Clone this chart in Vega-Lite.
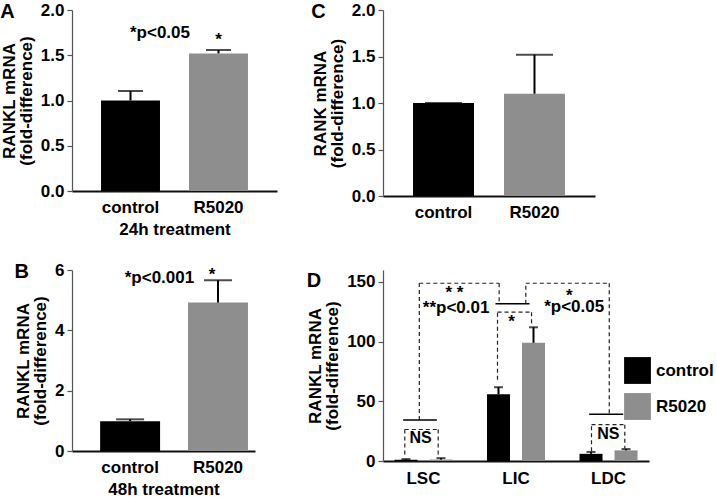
{
  "$schema": "https://vega.github.io/schema/vega-lite/v6.json",
  "background": "white",
  "padding": {"left": 0, "top": 1, "right": 0, "bottom": 0},
  "columns": 2,
  "align": "each",
  "bounds": "flush",
  "spacing": {"row": 74, "column": 106},
  "resolve": {"scale": {"color": "independent", "x": "independent", "y": "independent"}, "legend": {"color": "independent"}},
  "config": {
    "font": "Liberation Sans",
    "view": {"stroke": null},
    "axis": {"labelFontSize": 17, "labelFontWeight": "bold", "labelColor": "#000", "titleFontSize": 17, "titleFontWeight": "bold", "titleColor": "#000", "grid": false, "domainColor": "#555", "tickColor": "#555", "domainWidth": 1.2, "tickWidth": 1.2, "tickSize": 5, "labelPadding": 3},
    "axisX": {"ticks": false, "labelAngle": 0, "labelPadding": 8, "titlePadding": 6, "domainColor": "#111", "domainWidth": 1.8},
    "axisY": {"titlePadding": 5, "titleLineHeight": 17},
    "title": {"fontSize": 20, "fontWeight": "bold", "anchor": "start", "frame": "bounds", "color": "#000", "offset": -21, "baseline": "alphabetic"},
    "text": {"font": "Liberation Sans", "fontSize": 17, "fontWeight": "bold", "color": "#000"}
  },
  "datasets": {
    "barsA": [
      {"cond": "control", "value": 1.0, "err": 1.105},
      {"cond": "R5020", "value": 1.52, "err": 1.558}
    ],
    "textA": [
      {"cond": "control", "y": 1.743, "label": "*p<0.05", "kind": "p"},
      {"cond": "R5020", "y": 1.665, "label": "*", "kind": "s"}
    ],
    "barsB": [
      {"cond": "control", "value": 0.99, "err": 1.05},
      {"cond": "R5020", "value": 4.92, "err": 5.66}
    ],
    "textB": [
      {"cond": "control", "y": 5.745, "label": "*p<0.001", "kind": "p"},
      {"cond": "R5020", "y": 5.82, "label": "*", "kind": "s"}
    ],
    "barsC": [
      {"cond": "control", "value": 1.0, "err": 1.0},
      {"cond": "R5020", "value": 1.1, "err": 1.52}
    ],
    "barsD": [
      {"group": "LSC", "cond": "control", "value": 1.0, "err": 1.6},
      {"group": "LSC", "cond": "R5020", "value": 1.2, "err": 2.4},
      {"group": "LIC", "cond": "control", "value": 56, "err": 61.8},
      {"group": "LIC", "cond": "R5020", "value": 99, "err": 112},
      {"group": "LDC", "cond": "control", "value": 6, "err": 7.6},
      {"group": "LDC", "cond": "R5020", "value": 8.9, "err": 10}
    ],
    "linesD": [
      {"kind": "span", "x": -0.22, "x2": 0.145, "y": 34.3, "y2": 34.3},
      {"kind": "span", "x": 0.778, "x2": 1.146, "y": 131.7, "y2": 131.7},
      {"kind": "span", "x": 1.791, "x2": 2.159, "y": 39.2, "y2": 39.2},
      {"kind": "bracket", "x": -0.045, "x2": -0.045, "y": 34.3, "y2": 148.9},
      {"kind": "bracket", "x": -0.045, "x2": 0.818, "y": 148.9, "y2": 148.9},
      {"kind": "bracket", "x": 0.818, "x2": 0.818, "y": 148.9, "y2": 131.7},
      {"kind": "bracket", "x": 1.106, "x2": 1.106, "y": 131.7, "y2": 148.9},
      {"kind": "bracket", "x": 1.106, "x2": 2.008, "y": 148.9, "y2": 148.9},
      {"kind": "bracket", "x": 2.008, "x2": 2.008, "y": 148.9, "y2": 39.2},
      {"kind": "bracket", "x": 0.8, "x2": 0.8, "y": 68, "y2": 124.7},
      {"kind": "bracket", "x": 0.8, "x2": 1.168, "y": 124.7, "y2": 124.7},
      {"kind": "bracket", "x": 1.168, "x2": 1.168, "y": 124.7, "y2": 114},
      {"kind": "bracket", "x": -0.202, "x2": -0.202, "y": 5.5, "y2": 26.4},
      {"kind": "bracket", "x": -0.202, "x2": 0.159, "y": 26.4, "y2": 26.4},
      {"kind": "bracket", "x": 0.159, "x2": 0.159, "y": 26.4, "y2": 4.7},
      {"kind": "bracket", "x": 1.816, "x2": 1.816, "y": 8.1, "y2": 30.4},
      {"kind": "bracket", "x": 1.816, "x2": 2.176, "y": 30.4, "y2": 30.4},
      {"kind": "bracket", "x": 2.176, "x2": 2.176, "y": 30.4, "y2": 10.5}
    ],
    "textD": [
      {"x": 0.335, "y": 140.5, "label": "* *", "kind": "sig"},
      {"x": 0.353, "y": 128.4, "label": "**p<0.01", "kind": "sig"},
      {"x": 0.952, "y": 116.3, "label": "*", "kind": "sig"},
      {"x": 1.575, "y": 138.3, "label": "*", "kind": "sig"},
      {"x": 1.629, "y": 128.8, "label": "*p<0.05", "kind": "sig"},
      {"x": -0.032, "y": 19.2, "label": "NS", "kind": "ns"},
      {"x": 1.997, "y": 22.8, "label": "NS", "kind": "ns"}
    ]
  },
  "concat": [
    {
      "width": 205, "height": 181,
      "title": {"text": "A"},
      "layer": [
        {"data": {"name": "barsA"}, "mark": {"type": "bar"}, "encoding": {
          "x": {"field": "cond", "type": "nominal", "sort": ["control", "R5020"], "scale": {"paddingInner": 0.33, "paddingOuter": 0.33}, "axis": {"title": "24h treatment"}},
          "y": {"field": "value", "type": "quantitative", "scale": {"domain": [0, 2]}, "axis": {"title": ["RANKL mRNA", "(fold-difference)"], "values": [0, 0.5, 1, 1.5, 2], "format": ".1f"}},
          "color": {"field": "cond", "type": "nominal", "scale": {"domain": ["control", "R5020"], "range": ["#000000", "#8e8e8e"]}, "legend": null}}},
        {"data": {"name": "barsA"}, "mark": {"type": "rule", "color": "#000", "strokeWidth": 2}, "encoding": {
          "x": {"field": "cond", "type": "nominal", "sort": ["control", "R5020"]},
          "y": {"field": "value", "type": "quantitative"}, "y2": {"field": "err"}}},
        {"data": {"name": "barsA"}, "mark": {"type": "tick", "color": "#000", "thickness": 2, "size": 25}, "encoding": {
          "x": {"field": "cond", "type": "nominal", "sort": ["control", "R5020"]},
          "y": {"field": "err", "type": "quantitative"}}},
        {"data": {"name": "textA"}, "transform": [{"filter": "datum.kind == 'p'"}], "mark": {"type": "text", "baseline": "middle"}, "encoding": {
          "x": {"field": "cond", "type": "nominal", "sort": ["control", "R5020"], "bandPosition": 1.0},
          "y": {"field": "y", "type": "quantitative"}, "text": {"field": "label"}}},
        {"data": {"name": "textA"}, "transform": [{"filter": "datum.kind == 's'"}], "mark": {"type": "text", "baseline": "middle"}, "encoding": {
          "x": {"field": "cond", "type": "nominal", "sort": ["control", "R5020"], "bandPosition": 0.5},
          "y": {"field": "y", "type": "quantitative"}, "text": {"field": "label"}}}
      ]
    },
    {
      "width": 212, "height": 186,
      "title": {"text": "C"},
      "layer": [
        {"data": {"name": "barsC"}, "mark": {"type": "bar"}, "encoding": {
          "x": {"field": "cond", "type": "nominal", "sort": ["control", "R5020"], "scale": {"paddingInner": 0.33, "paddingOuter": 0.33}, "axis": {"title": null}},
          "y": {"field": "value", "type": "quantitative", "scale": {"domain": [0, 2]}, "axis": {"title": ["RANK mRNA", "(fold-difference)"], "values": [0, 0.5, 1, 1.5, 2], "format": ".1f"}},
          "color": {"field": "cond", "type": "nominal", "scale": {"domain": ["control", "R5020"], "range": ["#000000", "#8e8e8e"]}, "legend": null}}},
        {"data": {"name": "barsC"}, "mark": {"type": "rule", "color": "#000", "strokeWidth": 2}, "encoding": {
          "x": {"field": "cond", "type": "nominal", "sort": ["control", "R5020"]},
          "y": {"field": "value", "type": "quantitative"}, "y2": {"field": "err"}}},
        {"data": {"name": "barsC"}, "mark": {"type": "tick", "color": "#000", "thickness": 2, "size": 37}, "encoding": {
          "x": {"field": "cond", "type": "nominal", "sort": ["control", "R5020"]},
          "y": {"field": "err", "type": "quantitative"}}}
      ]
    },
    {
      "width": 183, "height": 181,
      "title": {"text": "B"},
      "layer": [
        {"data": {"name": "barsB"}, "mark": {"type": "bar"}, "encoding": {
          "x": {"field": "cond", "type": "nominal", "sort": ["control", "R5020"], "scale": {"paddingInner": 0.318, "paddingOuter": 0.2, "align": 0.8}, "axis": {"title": "48h treatment"}},
          "y": {"field": "value", "type": "quantitative", "scale": {"domain": [0, 6]}, "axis": {"title": ["RANKL mRNA", "(fold-difference)"], "values": [0, 2, 4, 6], "format": "d"}},
          "color": {"field": "cond", "type": "nominal", "scale": {"domain": ["control", "R5020"], "range": ["#000000", "#8e8e8e"]}, "legend": null}}},
        {"data": {"name": "barsB"}, "mark": {"type": "rule", "color": "#000", "strokeWidth": 2}, "encoding": {
          "x": {"field": "cond", "type": "nominal", "sort": ["control", "R5020"]},
          "y": {"field": "value", "type": "quantitative"}, "y2": {"field": "err"}}},
        {"data": {"name": "barsB"}, "mark": {"type": "tick", "color": "#000", "thickness": 2, "size": 28}, "encoding": {
          "x": {"field": "cond", "type": "nominal", "sort": ["control", "R5020"]},
          "y": {"field": "err", "type": "quantitative"}}},
        {"data": {"name": "textB"}, "transform": [{"filter": "datum.kind == 'p'"}], "mark": {"type": "text", "baseline": "middle"}, "encoding": {
          "x": {"field": "cond", "type": "nominal", "sort": ["control", "R5020"], "bandPosition": 0.99},
          "y": {"field": "y", "type": "quantitative"}, "text": {"field": "label"}}},
        {"data": {"name": "textB"}, "transform": [{"filter": "datum.kind == 's'"}], "mark": {"type": "text", "baseline": "middle"}, "encoding": {
          "x": {"field": "cond", "type": "nominal", "sort": ["control", "R5020"], "bandPosition": 0.4},
          "y": {"field": "y", "type": "quantitative"}, "text": {"field": "label"}}}
      ]
    },
    {
      "width": 266, "height": 191,
      "title": {"text": "D"},
      "resolve": {"scale": {"x": "independent"}},
      "layer": [
        {
          "data": {"name": "barsD"},
          "layer": [
            {"mark": {"type": "bar"}, "encoding": {
              "x": {"field": "group", "type": "nominal", "sort": ["LSC", "LIC", "LDC"], "scale": {"paddingInner": 0.373, "paddingOuter": 0.124}, "axis": {"title": null, "labelPadding": 9}},
              "xOffset": {"field": "cond", "type": "nominal", "sort": ["control", "R5020"], "scale": {"paddingInner": 0.343, "paddingOuter": 0}},
              "y": {"field": "value", "type": "quantitative", "scale": {"domain": [0, 150]}, "axis": {"title": ["RANKL mRNA", "(fold-difference)"], "values": [0, 50, 100, 150]}},
              "color": {"field": "cond", "type": "nominal", "scale": {"domain": ["control", "R5020"], "range": ["#000000", "#8e8e8e"]},
                "legend": {"orient": "none", "legendX": 241, "legendY": 87, "title": null, "symbolType": "square", "symbolSize": 720, "symbolStrokeWidth": 0, "labelFontSize": 17, "labelFontWeight": "bold", "labelColor": "#000", "rowPadding": 9, "labelOffset": 5, "padding": 0}}}},
            {"mark": {"type": "rule", "color": "#000", "strokeWidth": 2}, "encoding": {
              "x": {"field": "group", "type": "nominal", "sort": ["LSC", "LIC", "LDC"]},
              "xOffset": {"field": "cond", "type": "nominal", "sort": ["control", "R5020"]},
              "y": {"field": "value", "type": "quantitative"}, "y2": {"field": "err"}}},
            {"mark": {"type": "tick", "color": "#000", "thickness": 2, "size": 9}, "encoding": {
              "x": {"field": "group", "type": "nominal", "sort": ["LSC", "LIC", "LDC"]},
              "xOffset": {"field": "cond", "type": "nominal", "sort": ["control", "R5020"]},
              "y": {"field": "err", "type": "quantitative"}}}
          ]
        },
        {
          "layer": [
            {"data": {"name": "linesD"}, "transform": [{"filter": "datum.kind == 'bracket'"}], "mark": {"type": "rule", "color": "#222", "strokeWidth": 1.2, "strokeDash": [4, 3]}, "encoding": {
              "x": {"field": "x", "type": "quantitative", "scale": {"domain": [-0.4375, 2.4375], "nice": false, "zero": false}, "axis": null},
              "x2": {"field": "x2"},
              "y": {"field": "y", "type": "quantitative", "scale": {"domain": [0, 150]}},
              "y2": {"field": "y2"}}},
            {"data": {"name": "linesD"}, "transform": [{"filter": "datum.kind == 'span'"}], "mark": {"type": "rule", "color": "#000", "strokeWidth": 1.6}, "encoding": {
              "x": {"field": "x", "type": "quantitative"},
              "x2": {"field": "x2"},
              "y": {"field": "y", "type": "quantitative"},
              "y2": {"field": "y2"}}},
            {"data": {"name": "textD"}, "transform": [{"filter": "datum.kind == 'sig'"}], "mark": {"type": "text", "baseline": "middle"}, "encoding": {
              "x": {"field": "x", "type": "quantitative"},
              "y": {"field": "y", "type": "quantitative"},
              "text": {"field": "label"}}},
            {"data": {"name": "textD"}, "transform": [{"filter": "datum.kind == 'ns'"}], "mark": {"type": "text", "baseline": "middle", "fontSize": 16}, "encoding": {
              "x": {"field": "x", "type": "quantitative"},
              "y": {"field": "y", "type": "quantitative"},
              "text": {"field": "label"}}}
          ]
        }
      ]
    }
  ]
}
